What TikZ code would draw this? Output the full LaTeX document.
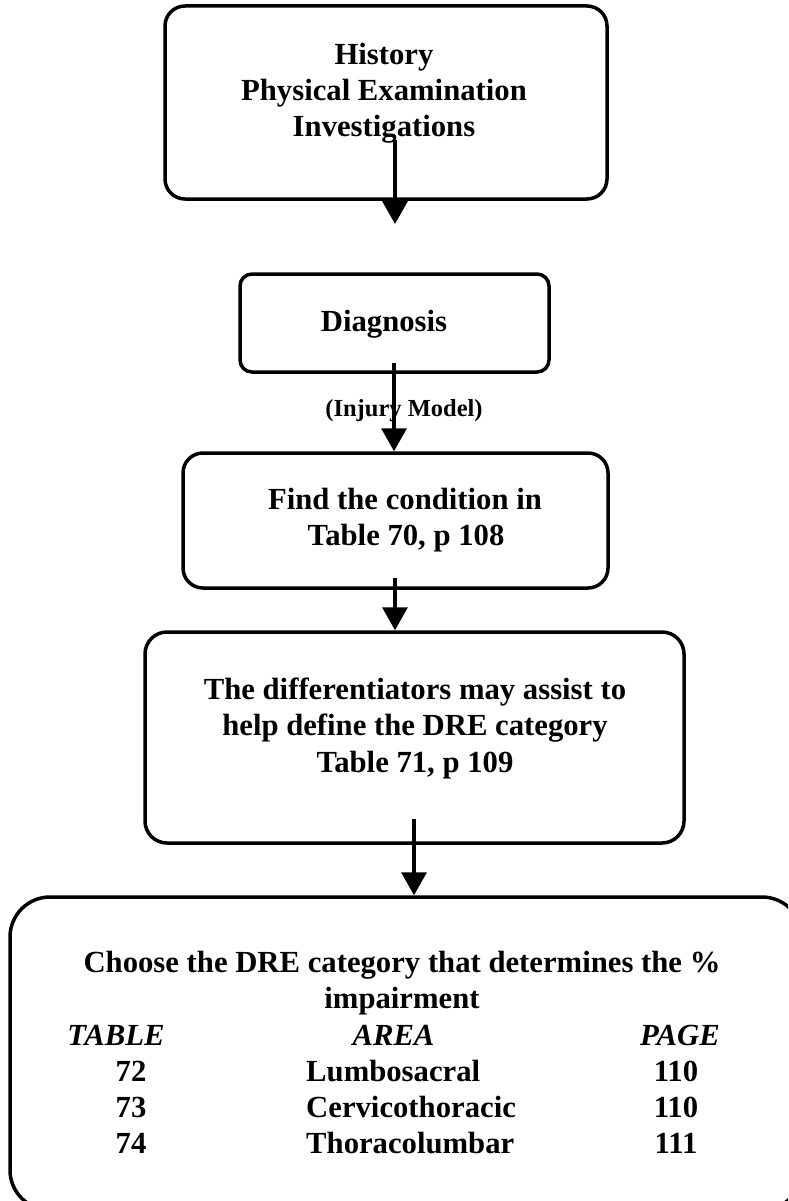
\documentclass[tikz,border=0pt]{standalone}
\usepackage{fontspec}
\setmainfont{Liberation Serif}
\usetikzlibrary{arrows.meta,calc}
\begin{document}
\begin{tikzpicture}[x=1pt,y=-1pt,
  box/.style={draw=black,line width=3.5pt,fill=none,inner sep=0pt},
  txt/.style={anchor=base,inner sep=0pt,font=\fontsize{30.7}{36}\selectfont\bfseries},
  smalltxt/.style={anchor=base,inner sep=0pt,font=\fontsize{24.5}{28}\selectfont\bfseries},
  ittxt/.style={anchor=base,inner sep=0pt,font=\fontsize{30.7}{36}\selectfont\bfseries\itshape},
  arr/.style={line width=3.5pt,-{Triangle[length=23pt,width=25pt]}}]
\useasboundingbox (0,0) rectangle (788,1201);
\clip (0,0) rectangle (788,1201);
% boxes
\node[box,rounded corners=20pt,minimum width=442pt,minimum height=193pt] (b1) at (386,102.5) {};
\node[box,rounded corners=12pt,minimum width=309pt,minimum height=98pt] (b2) at (394.5,323) {};
\node[box,rounded corners=20pt,minimum width=425pt,minimum height=135pt] (b3) at (395.5,520.5) {};
\node[box,rounded corners=22pt,minimum width=539pt,minimum height=211pt] (b4) at (414.5,737.5) {};
\node[box,rounded corners=40pt,minimum width=792pt,minimum height=313pt] (b5) at (406,1053.5) {};
% box 1 text
\node[txt] (t1a) at (384,65) {History};
\node[txt] (t1b) at (384,100.5) {Physical Examination};
\node[txt] (t1c) at (384,137) {Investigations};
% box 2 text
\node[txt] (t2) at (384,331) {Diagnosis};
\node[smalltxt] (inj) at (404,416) {(Injury Model)};
% box 3 text
\node[txt] (t3a) at (405,509) {Find the condition in};
\node[txt] (t3b) at (406,545) {Table 70, p 108};
% box 4 text
\node[txt] (t4a) at (415,699) {The differentiators may assist to};
\node[txt] (t4b) at (415,735.5) {help define the DRE category};
\node[txt] (t4c) at (415,772) {Table 71, p 109};
% box 5 text
\node[txt] (t5a) at (402,972) {Choose the DRE category that determines the \%};
\node[txt] (t5b) at (402,1008) {impairment};
\node[ittxt] (hT) at (116,1045) {TABLE};
\node[ittxt] (hA) at (393.5,1045) {AREA};
\node[ittxt] (hP) at (680,1045) {PAGE};
\node[txt] (n72) at (131,1081) {72};
\node[txt] (n73) at (131,1117) {73};
\node[txt] (n74) at (131,1153) {74};
\node[txt,anchor=base west] (r72) at (306,1081) {Lumbosacral};
\node[txt,anchor=base west] (r73) at (306,1117) {Cervicothoracic};
\node[txt,anchor=base west] (r74) at (306,1153) {Thoracolumbar};
\node[txt] (p72) at (676,1081) {110};
\node[txt] (p73) at (676,1117) {110};
\node[txt] (p74) at (676,1153) {111};
% arrows
\coordinate (a1s) at (395,140);
\coordinate (a1e) at (395,224);
\coordinate (a2s) at (394,363);
\coordinate (a3s) at (395,578);
\coordinate (a4s) at (414,819);
\draw[arr] (a1s) -- (a1e);
\draw[arr] (a2s) -- (a2s |- b3.north);
\draw[arr] (a3s) -- (a3s |- b4.north);
\draw[arr] (a4s) -- (a4s |- b5.north);
\end{tikzpicture}
\end{document}
